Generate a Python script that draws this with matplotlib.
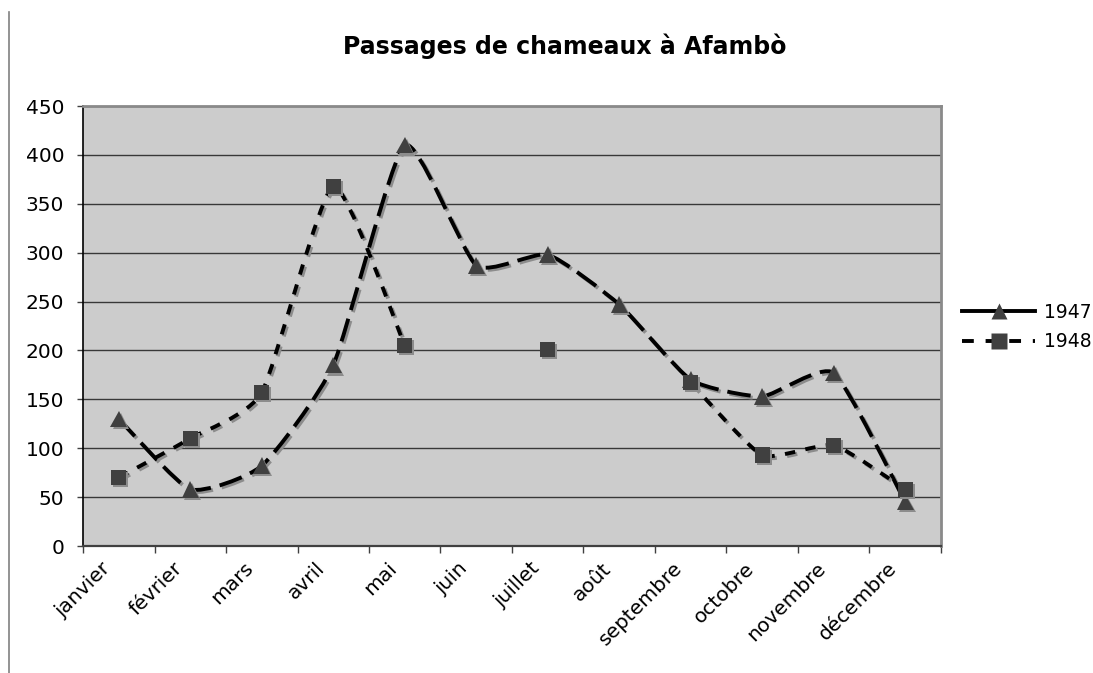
import matplotlib
matplotlib.use("Agg")
import matplotlib.pyplot as plt
import matplotlib.patheffects as pe
import matplotlib.transforms as mtransforms
import numpy as np
from matplotlib.path import Path
from matplotlib.patches import PathPatch
from matplotlib.lines import Line2D

# passages mensuels de chameaux
mois = ["janvier", "février", "mars", "avril", "mai", "juin", "juillet",
        "août", "septembre", "octobre", "novembre", "décembre"]
passages_1947 = [130, 58, 82, 185, 410, 287, 298, 247, 170, 153, 177, 45]
passages_1948 = [70, 110, 157, 368, 205, np.nan, 201, np.nan, 167, 93, 103, 58]
annees = ["1947", "1948"]

plt.rcParams["font.family"] = ["DejaVu Sans"]
plt.rcParams["lines.scale_dashes"] = False

LISSAGE = 0.09  # tension des courbes


def courbe_lissee(xs, ys):
    """Chemin de Bezier lisse passant par les points, coupe aux valeurs manquantes"""
    xs = np.asarray(xs, float)
    ys = np.asarray(ys, float)
    ok = ~np.isnan(ys)
    runs, cur = [], []
    for i in range(len(ys)):
        if ok[i]:
            cur.append(i)
        elif cur:
            runs.append(cur)
            cur = []
    if cur:
        runs.append(cur)
    verts, codes = [], []
    for run in runs:
        pts = np.column_stack([xs[run], ys[run]])
        if len(pts) < 2:
            continue
        verts.append(pts[0])
        codes.append(Path.MOVETO)
        n = len(pts)
        for i in range(n - 1):
            p0 = pts[max(i - 1, 0)]
            p1 = pts[i]
            p2 = pts[i + 1]
            p3 = pts[min(i + 2, n - 1)]
            verts += [p1 + (p2 - p0) * LISSAGE, p2 - (p3 - p1) * LISSAGE, p2]
            codes += [Path.CURVE4] * 3
    return Path(verts, codes)


fig = plt.figure(figsize=(10.93, 6.73), dpi=100)
ax = fig.add_axes([83 / 1093, 127 / 673, 858 / 1093, 440 / 673])
ax.set_facecolor("#cccccc")

x = np.arange(len(mois))
gris_marque = "#404040"
ombre_trait = [pe.SimpleLineShadow(offset=(1.5, -1.5), shadow_color="#8c8c8c", alpha=1), pe.Normal()]
ombre_marque = [pe.SimplePatchShadow(offset=(1.5, -1.5), shadow_rgbFace="#8c8c8c", alpha=1), pe.Normal()]

styles = {
    "1947": dict(ls=(0, (17, 6.5)), ls_leg="-", marker="^", ms=12),
    "1948": dict(ls=(0, (7.5, 7.5)), ls_leg=(0, (8.5, 8.5)), marker="s", ms=11),
}

handles = []
for annee, valeurs in zip(annees, [passages_1947, passages_1948]):
    st = styles[annee]
    trait = PathPatch(courbe_lissee(x, valeurs), fill=False, edgecolor="black",
                      lw=2.8, linestyle=st["ls"], capstyle="butt", zorder=3)
    trait.set_path_effects(ombre_trait)
    ax.add_patch(trait)
    pts, = ax.plot(x, valeurs, linestyle="none", marker=st["marker"], ms=st["ms"],
                   color=gris_marque, mec="none", zorder=4)
    pts.set_path_effects(ombre_marque)
    handles.append(Line2D([], [], color="black", lw=2.8, linestyle=st["ls_leg"],
                          marker=st["marker"], ms=st["ms"], mfc=gris_marque, mec="none"))

ax.set_xlim(-0.5, len(mois) - 0.5)
ax.set_ylim(0, 450)
ax.set_yticks(range(0, 451, 50))
ax.yaxis.grid(True, color="#383838", lw=1.0)
ax.set_axisbelow(True)

# graduations entre les categories, libelles au centre
ax.set_xticks(np.arange(len(mois) + 1) - 0.5)
ax.set_xticklabels([])
ax.set_xticks(x, labels=mois, minor=True)
ax.tick_params(axis="x", which="major", length=5, width=1, color="#404040", direction="out")
ax.tick_params(axis="x", which="minor", length=0, pad=14, labelsize=14.5)
decalage = mtransforms.ScaledTranslation(-8 / 72, 0, fig.dpi_scale_trans)
for lab in ax.get_xticklabels(minor=True):
    lab.set_rotation(45)
    lab.set_ha("right")
    lab.set_va("center")
    lab.set_rotation_mode("anchor")
    lab.set_transform(lab.get_transform() + decalage)
ax.tick_params(axis="y", length=4, width=1, color="#404040", pad=9.5, labelsize=14.5)

ax.spines["left"].set_color("black")
ax.spines["left"].set_linewidth(1.2)
ax.spines["bottom"].set_color("#404040")
ax.spines["bottom"].set_linewidth(1.6)
for s in ["top", "right"]:
    ax.spines[s].set_color("#8a8a8a")
    ax.spines[s].set_linewidth(2)

fig.text(565 / 1093, 1 - 46 / 673, "Passages de chameaux à Afambò", ha="center",
         va="center", fontsize=17, fontweight="bold")

fig.legend(handles, annees, loc="center left", bbox_to_anchor=(962 / 1093, 1 - 327 / 673),
           frameon=False, fontsize=13.5, handlelength=3.9, handletextpad=0.5,
           labelspacing=0.55, borderpad=0, borderaxespad=0)

# bord gauche de la zone du graphique
fig.add_artist(Line2D([8.5 / 1093, 8.5 / 1093], [1 - 12 / 673, 0], transform=fig.transFigure,
                      color="#808080", lw=1.2))

plt.savefig("out.png", dpi=100)
